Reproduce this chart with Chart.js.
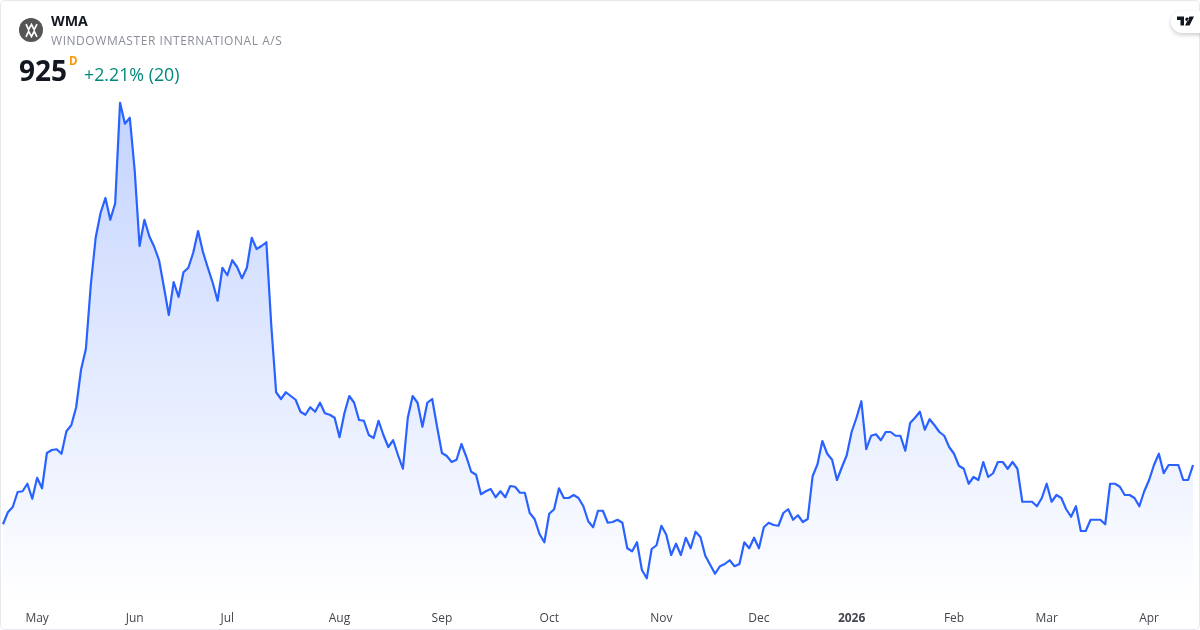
<!DOCTYPE html>
<html>
<head>
<meta charset="utf-8">
<script src="https://cdn.jsdelivr.net/npm/chart.js@4/dist/chart.umd.min.js"></script>
<style>
html,body{margin:0;padding:0;background:#fff;width:1200px;height:630px;overflow:hidden;font-family:"Open Sans",sans-serif}
#card{position:absolute;left:0;top:0;width:1198px;height:628px;border:1px solid #e6e8ee;border-radius:5px;overflow:hidden}
#c{position:absolute;left:0;top:0}
.t{position:absolute;white-space:nowrap;line-height:1}
</style>
</head>
<body>
<canvas id="c" width="1200" height="630" style="width:1200px;height:630px"></canvas>
<div id="card" style="pointer-events:none"></div>
<svg style="position:absolute;left:19px;top:18px" width="24" height="24" viewBox="0 0 24 24">
<circle cx="12" cy="12" r="12" fill="#555555"/>
<path d="M7 6.2L9.6 11.6L12.5 6.6L15.2 11.6L18 6.2M7 18.8L9.6 13.4L12.5 18.4L15.2 13.4L18 18.8" fill="none" stroke="#fff" stroke-width="1.7"/>
</svg>
<div class="t" style="left:51px;top:14px;font-size:14.2px;font-weight:700;color:#131722">WMA</div>
<div class="t" style="left:51px;top:35px;font-size:12px;color:#8a8e99;letter-spacing:.55px">WINDOWMASTER INTERNATIONAL A/S</div>
<div class="t" style="left:19px;top:56px;font-size:28px;font-weight:700;color:#131722">925</div>
<div class="t" style="left:69px;top:55px;font-size:11.5px;font-weight:700;color:#ff9800">D</div>
<div class="t" style="left:84px;top:66px;font-size:17.8px;color:#00897b">+2.21% (20)</div>
<div style="position:absolute;left:1171px;top:11px;width:40px;height:22px;border-radius:11px;background:#fff;box-shadow:0 2px 4px rgba(0,0,0,.2)"></div>
<svg style="position:absolute;left:1177px;top:16px" width="17" height="10" viewBox="0 0 34 20">
<path d="M0 1H14V19H7V8H0ZM20 3a3.5 3.5 0 1 0 0.01 0ZM25 1H34L25 19H16Z" fill="#131722"/>
</svg>
<script>
const prices = [846,862,869,889,890,900,880,908,894,941,945,946,940,970,978,1002,1052,1080,1165,1228,1261,1281,1252,1274,1408,1380,1388,1318,1217,1252,1230,1216,1198,1162,1125,1169,1149,1182,1188,1208,1237,1209,1188,1168,1144,1188,1178,1198,1189,1174,1188,1228,1213,1217,1222,1112,1022,1013,1022,1017,1012,996,992,1002,996,1008,994,992,988,962,994,1017,1008,985,984,965,961,984,965,949,958,938,920,988,1017,1008,976,1008,1013,976,941,937,929,932,953,936,916,912,886,890,893,882,890,882,897,896,888,888,861,853,833,822,860,866,894,881,881,885,881,870,850,842,864,864,848,849,852,848,814,810,822,785,774,813,818,844,832,805,820,805,828,814,836,829,804,792,780,790,793,798,790,793,822,814,828,814,842,848,845,844,861,866,852,858,849,853,910,926,957,940,932,905,922,938,969,988,1010,946,964,966,958,969,969,964,964,944,981,988,996,972,986,978,969,964,949,940,924,920,900,909,905,929,909,914,929,929,920,929,920,876,876,876,870,881,900,876,885,881,866,856,870,837,837,852,852,852,846,900,900,896,885,885,881,870,890,905,925,940,914,925,925,925,905,905,925];
const tickNames = ['May','Jun','Jul','Aug','Sep','Oct','Nov','Dec','2026','Feb','Mar','Apr'];
const tickPositions = [7,27,46,69,90,112,135,155,174,195,214,235];
const categories = prices.map((_, i) => i);
const tickMap = {};
tickPositions.forEach((p, i) => tickMap[p] = tickNames[i]);

new Chart(document.getElementById('c'), {
  type: 'line',
  data: {
    labels: categories,
    datasets: [{
      data: prices,
      borderColor: '#2962ff',
      borderWidth: 2.2,
      borderJoinStyle: 'round',
      pointRadius: 0,
      tension: 0,
      fill: 'start',
      backgroundColor(ctx) {
        const {ctx: g, chartArea} = ctx.chart;
        if (!chartArea) return 'rgba(41,98,255,.2)';
        const gr = g.createLinearGradient(0, 102, 0, chartArea.bottom);
        gr.addColorStop(0, 'rgba(41,98,255,0.28)');
        gr.addColorStop(1, 'rgba(41,98,255,0.0)');
        return gr;
      }
    }]
  },
  options: {
    responsive: false,
    animation: false,
    devicePixelRatio: 1,
    layout: {padding: {left: 3, right: 7, top: 0, bottom: 0}},
    plugins: {legend: {display: false}, tooltip: {enabled: false}},
    scales: {
      y: {display: false, min: 741, max: 1545},
      x: {
        grid: {display: false, drawTicks: false},
        border: {display: false},
        afterFit(s) { s.height = 27; s.paddingLeft = 0; s.paddingRight = 0; },
        ticks: {
          autoSkip: false,
          maxRotation: 0,
          padding: 8,
          color: '#43464f',
          font: ctx => ({family: '"Open Sans"', size: 12, weight: ctx.tick && ctx.tick.label === '2026' ? '700' : '400'}),
          callback: (v) => tickMap[v] || ''
        }
      }
    }
  }
});
</script>
</body>
</html>
